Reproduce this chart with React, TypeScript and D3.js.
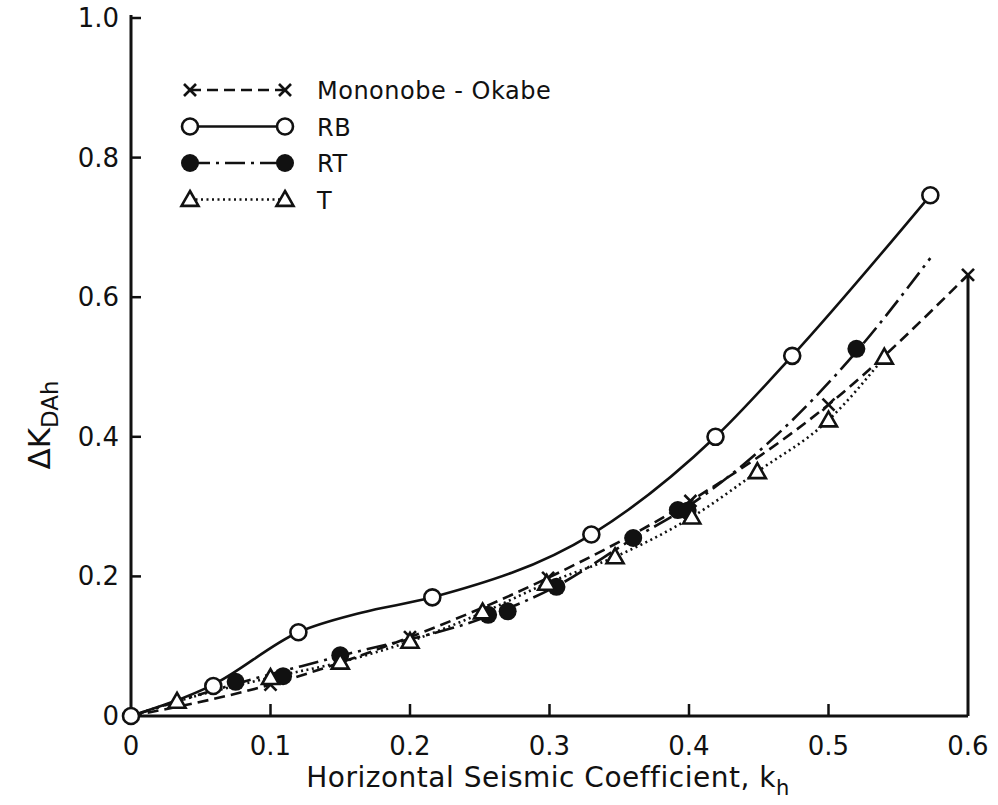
import * as d3 from 'd3';

// Horizontal seismic coefficient vs. increment of dynamic active thrust coefficient
const xTicks = [0, 0.1, 0.2, 0.3, 0.4, 0.5, 0.6];
const xTickLabels = ['0', '0.1', '0.2', '0.3', '0.4', '0.5', '0.6'];
const yTicks = [0, 0.2, 0.4, 0.6, 0.8, 1.0];
const yTickLabels = ['0', '0.2', '0.4', '0.6', '0.8', '1.0'];

// Mononobe-Okabe (x, dashed)
const moPoints: [number, number][] = [
  [0.1, 0.045], [0.2, 0.113], [0.299, 0.198], [0.401, 0.308], [0.5, 0.446], [0.6, 0.632],
];
const moCurve: [number, number][] = [
  [0, 0], [0.1, 0.045], [0.2, 0.113], [0.299, 0.198], [0.401, 0.308], [0.5, 0.446], [0.6, 0.632],
];

// RB (open circles, solid)
const rbPoints: [number, number][] = [
  [0, 0], [0.059, 0.043], [0.12, 0.12], [0.216, 0.17], [0.33, 0.26],
  [0.419, 0.4], [0.474, 0.516], [0.573, 0.746],
];
const rbCurve: [number, number][] = [
  [0, 0], [0.059, 0.045], [0.12, 0.12], [0.165, 0.148], [0.216, 0.17], [0.33, 0.26],
  [0.419, 0.4], [0.474, 0.516], [0.573, 0.746],
];

// RT (filled circles, dash-dot)
const rtPoints: [number, number][] = [
  [0.075, 0.049], [0.109, 0.057], [0.15, 0.087], [0.256, 0.145], [0.27, 0.15],
  [0.305, 0.185], [0.36, 0.255], [0.392, 0.295], [0.399, 0.294], [0.52, 0.526],
];
const rtCurve: [number, number][] = [
  [0, 0], [0.075, 0.046], [0.15, 0.086], [0.26, 0.146], [0.305, 0.186],
  [0.36, 0.254], [0.396, 0.296], [0.52, 0.522], [0.573, 0.656],
];

// T (open triangles, dotted)
const tPoints: [number, number][] = [
  [0.033, 0.021], [0.1, 0.055], [0.15, 0.077], [0.2, 0.107], [0.252, 0.149],
  [0.298, 0.19], [0.347, 0.228], [0.402, 0.285], [0.449, 0.35], [0.5, 0.424], [0.54, 0.514],
];
const tCurve: [number, number][] = [
  [0, 0], [0.033, 0.021], [0.1, 0.055], [0.15, 0.077], [0.2, 0.107], [0.252, 0.148],
  [0.298, 0.19], [0.347, 0.228], [0.402, 0.285], [0.449, 0.35], [0.5, 0.424], [0.54, 0.514],
];

const legendLabels = ['Mononobe - Okabe', 'RB', 'RT', 'T'];

const W = 998;
const H = 805;
const FONT = '"DejaVu Sans", sans-serif';
const INK = '#111';

const x = d3.scaleLinear().domain([0, 0.6]).range([131, 968]);
const y = d3.scaleLinear().domain([0, 1]).range([716, 18]);

const line = d3
  .line<[number, number]>()
  .x((d) => x(d[0]))
  .y((d) => y(d[1]))
  .curve(d3.curveMonotoneX);

const dashStyles = {
  mo: '11 6',
  rb: 'none',
  rt: '20 6 3 6',
  t: '2 3.5',
};

type Kind = 'x' | 'open' | 'filled' | 'tri';

const Marker = ({ kind, cx, cy }: { kind: Kind; cx: number; cy: number }) => {
  if (kind === 'open')
    return <circle cx={cx} cy={cy} r={8} fill="#fff" stroke={INK} strokeWidth={2.6} />;
  if (kind === 'filled') return <circle cx={cx} cy={cy} r={9} fill={INK} />;
  if (kind === 'tri') {
    const s = 8.5;
    const tri = d3.path();
    tri.moveTo(cx, cy - s);
    tri.lineTo(cx + s, cy + s * 0.75);
    tri.lineTo(cx - s, cy + s * 0.75);
    tri.closePath();
    return <path d={tri.toString()} fill="#fff" stroke={INK} strokeWidth={2.6} />;
  }
  const k = 6;
  return (
    <g stroke={INK} strokeWidth={2.6}>
      <line x1={cx - k} y1={cy - k} x2={cx + k} y2={cy + k} />
      <line x1={cx + k} y1={cy - k} x2={cx - k} y2={cy + k} />
    </g>
  );
};

const series = [
  { key: 'mo', kind: 'x' as Kind, points: moPoints, curve: moCurve },
  { key: 'rb', kind: 'open' as Kind, points: rbPoints, curve: rbCurve },
  { key: 'rt', kind: 'filled' as Kind, points: rtPoints, curve: rtCurve },
  { key: 't', kind: 'tri' as Kind, points: tPoints, curve: tCurve },
];

export default function App() {
  return (
    <svg
      width={W}
      height={H}
      style={{ position: 'absolute', left: 0, top: 0, background: '#fff' }}
      fontFamily={FONT}
    >
      <rect width={W} height={H} fill="#fff" />

      {/* axes frame */}
      <g stroke={INK} strokeWidth={3} fill="none">
        <line x1={x(0)} y1={y(1.0) - 3} x2={x(0)} y2={y(0)} />
        <line x1={x(0)} y1={y(0)} x2={x(0.6)} y2={y(0)} />
        <line x1={x(0.6)} y1={y(0.632)} x2={x(0.6)} y2={y(0)} />
      </g>

      {/* x ticks */}
      {xTicks.map((t, i) => (
        <g key={'xt' + i}>
          {i > 0 && i < xTicks.length - 1 && (
            <line x1={x(t)} x2={x(t)} y1={y(0)} y2={y(0) - 12} stroke={INK} strokeWidth={2.5} />
          )}
          <text x={x(t)} y={y(0) + 39} fontSize={26} textAnchor="middle" fill={INK}>
            {xTickLabels[i]}
          </text>
        </g>
      ))}

      {/* y ticks */}
      {yTicks.map((t, i) => (
        <g key={'yt' + i}>
          {i > 0 && (
            <line x1={x(0)} x2={x(0) + 10} y1={y(t)} y2={y(t)} stroke={INK} strokeWidth={2.5} />
          )}
          <text x={x(0) - 12} y={y(t) + 9} fontSize={26} textAnchor="end" fill={INK}>
            {yTickLabels[i]}
          </text>
        </g>
      ))}

      {/* curves */}
      {series.map((s) => (
        <path
          key={'c' + s.key}
          d={line(s.curve) || ''}
          fill="none"
          stroke={INK}
          strokeWidth={2.6}
          strokeDasharray={dashStyles[s.key as keyof typeof dashStyles]}
        />
      ))}

      {/* markers */}
      {series.map((s) =>
        s.points.map((p, i) => (
          <Marker key={s.key + i} kind={s.kind} cx={x(p[0])} cy={y(p[1])} />
        ))
      )}

      {/* legend */}
      {series.map((s, i) => {
        const ly = 90 + i * 36.5;
        return (
          <g key={'lg' + s.key}>
            <line
              x1={190}
              x2={285}
              y1={ly}
              y2={ly}
              stroke={INK}
              strokeWidth={2.6}
              strokeDasharray={dashStyles[s.key as keyof typeof dashStyles]}
            />
            <Marker kind={s.kind} cx={190} cy={ly} />
            <Marker kind={s.kind} cx={285} cy={ly} />
            <text x={317} y={ly + 9} fontSize={24} letterSpacing={0.5} fill={INK}>
              {legendLabels[i]}
            </text>
          </g>
        );
      })}

      {/* axis titles */}
      <text x={548} y={787} fontSize={28} letterSpacing={0.5} textAnchor="middle" fill={INK}>
        Horizontal Seismic Coefficient, k
        <tspan fontSize={21} dy={8}>h</tspan>
      </text>
      <text
        transform={`translate(50, 425) rotate(-90)`}
        fontSize={31}
        textAnchor="middle"
        fill={INK}
      >
        ΔK
        <tspan fontSize={23} dy={8}>DAh</tspan>
      </text>
    </svg>
  );
}
